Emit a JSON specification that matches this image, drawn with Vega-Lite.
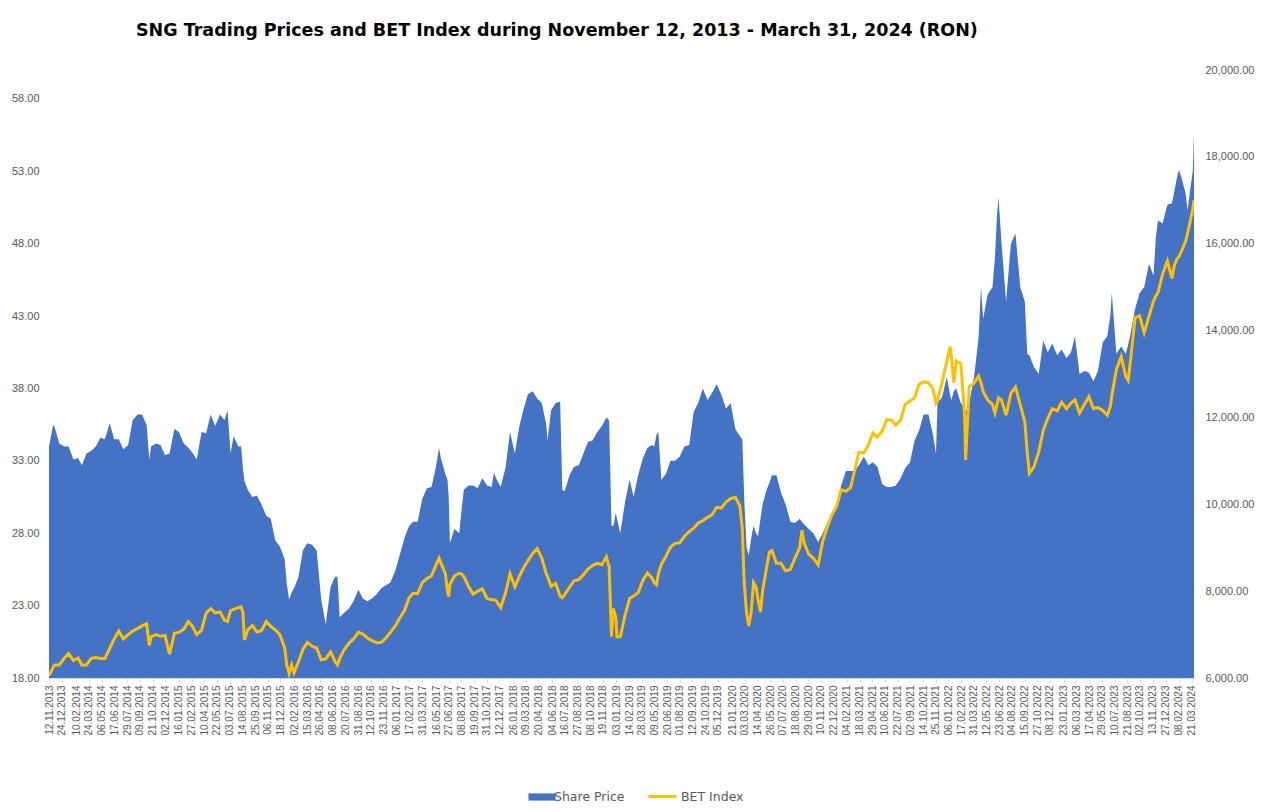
{
  "$schema": "https://vega.github.io/schema/vega-lite/v6.json",
  "width": 1145,
  "height": 608,
  "padding": {"left": 11, "top": 21, "right": 6, "bottom": 4},
  "background": "white",
  "title": {
    "text": "SNG Trading Prices and BET Index during November 12, 2013 - March 31, 2024 (RON)",
    "font": "DejaVu Sans",
    "fontSize": 17.5,
    "fontWeight": "bold",
    "color": "#000000",
    "anchor": "start",
    "frame": "group",
    "dx": 87,
    "offset": 25
  },
  "config": {
    "view": {"stroke": null},
    "axis": {"labelFont": "Liberation Sans", "labelColor": "#595959", "grid": false, "title": null},
    "legend": {"labelFont": "DejaVu Sans", "labelFontSize": 12.5, "labelColor": "#595959", "title": null, "orient": "none", "direction": "horizontal", "labelOffset": 3}
  },
  "data": {
    "values": [
      {"date": "2013-11-12", "price": 34.0, "bet": 6050},
      {"date": "2013-11-26", "price": 35.5, "bet": 6250},
      {"date": "2013-12-01", "price": 35.3, "bet": 6300},
      {"date": "2013-12-16", "price": 34.2, "bet": 6300},
      {"date": "2014-01-01", "price": 34.0, "bet": 6450},
      {"date": "2014-01-16", "price": 34.0, "bet": 6560},
      {"date": "2014-02-01", "price": 33.1, "bet": 6400},
      {"date": "2014-02-16", "price": 33.2, "bet": 6460},
      {"date": "2014-03-01", "price": 32.7, "bet": 6300},
      {"date": "2014-03-16", "price": 33.5, "bet": 6300},
      {"date": "2014-04-01", "price": 33.7, "bet": 6450},
      {"date": "2014-04-16", "price": 34.0, "bet": 6470},
      {"date": "2014-05-01", "price": 34.6, "bet": 6450},
      {"date": "2014-05-16", "price": 34.5, "bet": 6450},
      {"date": "2014-06-01", "price": 35.6, "bet": 6680},
      {"date": "2014-06-16", "price": 34.5, "bet": 6900},
      {"date": "2014-07-01", "price": 34.5, "bet": 7080},
      {"date": "2014-07-16", "price": 33.8, "bet": 6900},
      {"date": "2014-08-01", "price": 34.1, "bet": 7000},
      {"date": "2014-08-16", "price": 35.8, "bet": 7080},
      {"date": "2014-09-01", "price": 36.2, "bet": 7140},
      {"date": "2014-09-16", "price": 36.2, "bet": 7200},
      {"date": "2014-10-01", "price": 35.5, "bet": 7250},
      {"date": "2014-10-10", "price": 33.1, "bet": 6750},
      {"date": "2014-10-16", "price": 34.0, "bet": 6950},
      {"date": "2014-11-01", "price": 34.2, "bet": 7000},
      {"date": "2014-11-16", "price": 34.1, "bet": 6960},
      {"date": "2014-12-01", "price": 33.4, "bet": 6980},
      {"date": "2014-12-16", "price": 33.5, "bet": 6550},
      {"date": "2015-01-01", "price": 35.2, "bet": 7030},
      {"date": "2015-01-16", "price": 35.0, "bet": 7050},
      {"date": "2015-02-01", "price": 34.2, "bet": 7120},
      {"date": "2015-02-16", "price": 33.9, "bet": 7300},
      {"date": "2015-03-01", "price": 33.6, "bet": 7200},
      {"date": "2015-03-16", "price": 33.1, "bet": 7000},
      {"date": "2015-04-01", "price": 35.0, "bet": 7100},
      {"date": "2015-04-16", "price": 34.9, "bet": 7490},
      {"date": "2015-05-01", "price": 36.2, "bet": 7600},
      {"date": "2015-05-16", "price": 35.4, "bet": 7500},
      {"date": "2015-06-01", "price": 36.2, "bet": 7520},
      {"date": "2015-06-16", "price": 35.8, "bet": 7330},
      {"date": "2015-06-26", "price": 36.5, "bet": 7300},
      {"date": "2015-07-06", "price": 33.5, "bet": 7550},
      {"date": "2015-07-16", "price": 34.7, "bet": 7580},
      {"date": "2015-08-01", "price": 34.0, "bet": 7620},
      {"date": "2015-08-10", "price": 34.0, "bet": 7640},
      {"date": "2015-08-16", "price": 32.4, "bet": 7500},
      {"date": "2015-08-21", "price": 31.6, "bet": 6875},
      {"date": "2015-09-01", "price": 31.0, "bet": 7110},
      {"date": "2015-09-16", "price": 30.5, "bet": 7210},
      {"date": "2015-10-01", "price": 30.6, "bet": 7060},
      {"date": "2015-10-16", "price": 30.0, "bet": 7090},
      {"date": "2015-11-01", "price": 29.2, "bet": 7300},
      {"date": "2015-11-16", "price": 29.0, "bet": 7190},
      {"date": "2015-12-01", "price": 27.5, "bet": 7110},
      {"date": "2015-12-16", "price": 27.1, "bet": 7000},
      {"date": "2016-01-01", "price": 26.2, "bet": 6700},
      {"date": "2016-01-08", "price": 24.5, "bet": 6300},
      {"date": "2016-01-16", "price": 23.4, "bet": 6100},
      {"date": "2016-01-24", "price": 23.9, "bet": 6300},
      {"date": "2016-02-01", "price": 24.2, "bet": 6120},
      {"date": "2016-02-16", "price": 25.0, "bet": 6380},
      {"date": "2016-03-01", "price": 26.8, "bet": 6650},
      {"date": "2016-03-16", "price": 27.3, "bet": 6820},
      {"date": "2016-04-01", "price": 27.2, "bet": 6730},
      {"date": "2016-04-16", "price": 26.8, "bet": 6690},
      {"date": "2016-05-01", "price": 23.4, "bet": 6420},
      {"date": "2016-05-16", "price": 21.7, "bet": 6440},
      {"date": "2016-06-01", "price": 24.3, "bet": 6600},
      {"date": "2016-06-16", "price": 25.0, "bet": 6380},
      {"date": "2016-06-24", "price": 25.0, "bet": 6300},
      {"date": "2016-07-01", "price": 22.2, "bet": 6450},
      {"date": "2016-07-16", "price": 22.5, "bet": 6650},
      {"date": "2016-08-01", "price": 22.8, "bet": 6800},
      {"date": "2016-08-16", "price": 23.3, "bet": 6900},
      {"date": "2016-09-01", "price": 24.1, "bet": 7050},
      {"date": "2016-09-16", "price": 23.5, "bet": 7010},
      {"date": "2016-10-01", "price": 23.3, "bet": 6920},
      {"date": "2016-10-16", "price": 23.5, "bet": 6860},
      {"date": "2016-11-01", "price": 23.8, "bet": 6810},
      {"date": "2016-11-16", "price": 24.2, "bet": 6820},
      {"date": "2016-12-01", "price": 24.4, "bet": 6920},
      {"date": "2016-12-16", "price": 24.6, "bet": 7050},
      {"date": "2017-01-01", "price": 25.4, "bet": 7200},
      {"date": "2017-01-16", "price": 26.5, "bet": 7380},
      {"date": "2017-02-01", "price": 27.7, "bet": 7560},
      {"date": "2017-02-16", "price": 28.5, "bet": 7850},
      {"date": "2017-03-01", "price": 28.8, "bet": 7950},
      {"date": "2017-03-16", "price": 28.8, "bet": 7940},
      {"date": "2017-04-01", "price": 30.4, "bet": 8200},
      {"date": "2017-04-16", "price": 31.1, "bet": 8290},
      {"date": "2017-05-01", "price": 31.2, "bet": 8350},
      {"date": "2017-05-16", "price": 32.6, "bet": 8600},
      {"date": "2017-05-26", "price": 33.9, "bet": 8757},
      {"date": "2017-06-01", "price": 33.2, "bet": 8650},
      {"date": "2017-06-16", "price": 32.1, "bet": 8400},
      {"date": "2017-06-23", "price": 31.7, "bet": 8000},
      {"date": "2017-06-27", "price": 30.5, "bet": 7874},
      {"date": "2017-07-01", "price": 27.3, "bet": 8150},
      {"date": "2017-07-16", "price": 28.3, "bet": 8350},
      {"date": "2017-08-01", "price": 28.0, "bet": 8411},
      {"date": "2017-08-08", "price": 29.5, "bet": 8400},
      {"date": "2017-08-16", "price": 31.0, "bet": 8340},
      {"date": "2017-09-01", "price": 31.3, "bet": 8100},
      {"date": "2017-09-16", "price": 31.3, "bet": 7930},
      {"date": "2017-10-01", "price": 31.1, "bet": 8000},
      {"date": "2017-10-16", "price": 31.8, "bet": 8050},
      {"date": "2017-11-01", "price": 31.3, "bet": 7830},
      {"date": "2017-11-16", "price": 31.2, "bet": 7800},
      {"date": "2017-11-24", "price": 32.2, "bet": 7800},
      {"date": "2017-12-01", "price": 31.8, "bet": 7780},
      {"date": "2017-12-16", "price": 31.2, "bet": 7620},
      {"date": "2018-01-01", "price": 32.5, "bet": 7950},
      {"date": "2018-01-16", "price": 35.0, "bet": 8400},
      {"date": "2018-02-01", "price": 33.5, "bet": 8100},
      {"date": "2018-02-16", "price": 35.4, "bet": 8340},
      {"date": "2018-03-01", "price": 36.5, "bet": 8530},
      {"date": "2018-03-16", "price": 37.6, "bet": 8700},
      {"date": "2018-04-01", "price": 37.8, "bet": 8870},
      {"date": "2018-04-16", "price": 37.3, "bet": 8980},
      {"date": "2018-05-01", "price": 37.0, "bet": 8760},
      {"date": "2018-05-16", "price": 35.5, "bet": 8400},
      {"date": "2018-05-20", "price": 34.4, "bet": 8334},
      {"date": "2018-06-01", "price": 36.5, "bet": 8110},
      {"date": "2018-06-16", "price": 37.0, "bet": 8180},
      {"date": "2018-07-01", "price": 37.1, "bet": 7880},
      {"date": "2018-07-08", "price": 31.0, "bet": 7850},
      {"date": "2018-07-16", "price": 30.9, "bet": 7920},
      {"date": "2018-08-01", "price": 32.0, "bet": 8090},
      {"date": "2018-08-16", "price": 32.6, "bet": 8240},
      {"date": "2018-09-01", "price": 32.7, "bet": 8270},
      {"date": "2018-09-16", "price": 33.5, "bet": 8380},
      {"date": "2018-10-01", "price": 34.3, "bet": 8510},
      {"date": "2018-10-16", "price": 34.4, "bet": 8590},
      {"date": "2018-11-01", "price": 35.0, "bet": 8640},
      {"date": "2018-11-16", "price": 35.4, "bet": 8610},
      {"date": "2018-12-01", "price": 36.0, "bet": 8790},
      {"date": "2018-12-10", "price": 35.8, "bet": 8564},
      {"date": "2018-12-18", "price": 28.5, "bet": 6951},
      {"date": "2018-12-24", "price": 28.5, "bet": 7600},
      {"date": "2019-01-01", "price": 29.4, "bet": 7400},
      {"date": "2019-01-05", "price": 29.0, "bet": 6951},
      {"date": "2019-01-16", "price": 28.0, "bet": 6951},
      {"date": "2019-02-01", "price": 30.2, "bet": 7450},
      {"date": "2019-02-16", "price": 31.7, "bet": 7830},
      {"date": "2019-03-01", "price": 30.5, "bet": 7890},
      {"date": "2019-03-16", "price": 32.0, "bet": 7960},
      {"date": "2019-04-01", "price": 33.2, "bet": 8250},
      {"date": "2019-04-16", "price": 33.9, "bet": 8420},
      {"date": "2019-05-01", "price": 34.1, "bet": 8300},
      {"date": "2019-05-08", "price": 34.0, "bet": 8200},
      {"date": "2019-05-16", "price": 34.8, "bet": 8150},
      {"date": "2019-05-22", "price": 35.0, "bet": 8400},
      {"date": "2019-06-01", "price": 31.7, "bet": 8620},
      {"date": "2019-06-16", "price": 32.1, "bet": 8800},
      {"date": "2019-07-01", "price": 33.0, "bet": 9010},
      {"date": "2019-07-16", "price": 33.0, "bet": 9100},
      {"date": "2019-08-01", "price": 33.3, "bet": 9110},
      {"date": "2019-08-16", "price": 34.0, "bet": 9260},
      {"date": "2019-09-01", "price": 34.1, "bet": 9370},
      {"date": "2019-09-16", "price": 36.4, "bet": 9450},
      {"date": "2019-10-01", "price": 37.0, "bet": 9570},
      {"date": "2019-10-16", "price": 38.0, "bet": 9620},
      {"date": "2019-11-01", "price": 37.2, "bet": 9700},
      {"date": "2019-11-16", "price": 37.7, "bet": 9760},
      {"date": "2019-12-01", "price": 38.3, "bet": 9930},
      {"date": "2019-12-16", "price": 37.6, "bet": 9910},
      {"date": "2020-01-01", "price": 36.6, "bet": 10050},
      {"date": "2020-01-16", "price": 37.0, "bet": 10130},
      {"date": "2020-02-01", "price": 35.2, "bet": 10160},
      {"date": "2020-02-16", "price": 34.7, "bet": 9960},
      {"date": "2020-02-24", "price": 34.5, "bet": 9420},
      {"date": "2020-03-01", "price": 30.5, "bet": 8200},
      {"date": "2020-03-09", "price": 27.0, "bet": 7500},
      {"date": "2020-03-16", "price": 26.5, "bet": 7200},
      {"date": "2020-03-24", "price": 27.6, "bet": 7500},
      {"date": "2020-04-01", "price": 28.5, "bet": 8200},
      {"date": "2020-04-09", "price": 28.0, "bet": 8100},
      {"date": "2020-04-16", "price": 27.8, "bet": 7800},
      {"date": "2020-04-24", "price": 29.0, "bet": 7520},
      {"date": "2020-05-01", "price": 30.0, "bet": 8000},
      {"date": "2020-05-16", "price": 31.1, "bet": 8620},
      {"date": "2020-05-24", "price": 31.5, "bet": 8900},
      {"date": "2020-06-01", "price": 32.0, "bet": 8930},
      {"date": "2020-06-16", "price": 32.0, "bet": 8642},
      {"date": "2020-07-01", "price": 30.8, "bet": 8640},
      {"date": "2020-07-16", "price": 30.0, "bet": 8470},
      {"date": "2020-08-01", "price": 28.8, "bet": 8500},
      {"date": "2020-08-16", "price": 28.7, "bet": 8760},
      {"date": "2020-09-01", "price": 29.0, "bet": 9000},
      {"date": "2020-09-08", "price": 28.8, "bet": 9400},
      {"date": "2020-09-16", "price": 28.6, "bet": 9100},
      {"date": "2020-10-01", "price": 28.3, "bet": 8850},
      {"date": "2020-10-16", "price": 28.0, "bet": 8760},
      {"date": "2020-11-01", "price": 27.4, "bet": 8600},
      {"date": "2020-11-16", "price": 28.0, "bet": 9150},
      {"date": "2020-12-01", "price": 28.7, "bet": 9470},
      {"date": "2020-12-16", "price": 29.2, "bet": 9750},
      {"date": "2021-01-01", "price": 30.0, "bet": 9950},
      {"date": "2021-01-16", "price": 31.3, "bet": 10330},
      {"date": "2021-02-01", "price": 32.3, "bet": 10300},
      {"date": "2021-02-16", "price": 32.3, "bet": 10380},
      {"date": "2021-03-01", "price": 32.3, "bet": 10750},
      {"date": "2021-03-16", "price": 32.7, "bet": 11200},
      {"date": "2021-04-01", "price": 33.3, "bet": 11180},
      {"date": "2021-04-16", "price": 32.7, "bet": 11360},
      {"date": "2021-05-01", "price": 32.9, "bet": 11640},
      {"date": "2021-05-16", "price": 32.6, "bet": 11550},
      {"date": "2021-06-01", "price": 31.4, "bet": 11690},
      {"date": "2021-06-16", "price": 31.2, "bet": 11950},
      {"date": "2021-07-01", "price": 31.2, "bet": 11940},
      {"date": "2021-07-16", "price": 31.3, "bet": 11820},
      {"date": "2021-08-01", "price": 31.8, "bet": 11942},
      {"date": "2021-08-16", "price": 32.5, "bet": 12300},
      {"date": "2021-09-01", "price": 32.9, "bet": 12380},
      {"date": "2021-09-16", "price": 34.4, "bet": 12450},
      {"date": "2021-10-01", "price": 35.1, "bet": 12760},
      {"date": "2021-10-16", "price": 36.2, "bet": 12820},
      {"date": "2021-11-01", "price": 36.2, "bet": 12800},
      {"date": "2021-11-16", "price": 34.8, "bet": 12650},
      {"date": "2021-11-26", "price": 33.5, "bet": 12326},
      {"date": "2021-12-01", "price": 37.0, "bet": 12380},
      {"date": "2021-12-16", "price": 37.4, "bet": 12800},
      {"date": "2022-01-01", "price": 38.8, "bet": 13300},
      {"date": "2022-01-12", "price": 37.5, "bet": 13630},
      {"date": "2022-01-16", "price": 37.2, "bet": 13400},
      {"date": "2022-01-24", "price": 37.8, "bet": 12800},
      {"date": "2022-02-01", "price": 38.0, "bet": 13300},
      {"date": "2022-02-16", "price": 37.0, "bet": 13240},
      {"date": "2022-02-24", "price": 36.8, "bet": 12500},
      {"date": "2022-03-01", "price": 36.5, "bet": 12000},
      {"date": "2022-03-04", "price": 36.4, "bet": 11021},
      {"date": "2022-03-16", "price": 37.0, "bet": 12710},
      {"date": "2022-04-01", "price": 38.8, "bet": 12790},
      {"date": "2022-04-16", "price": 41.5, "bet": 12950},
      {"date": "2022-04-24", "price": 45.0, "bet": 12800},
      {"date": "2022-05-01", "price": 42.8, "bet": 12600},
      {"date": "2022-05-16", "price": 44.5, "bet": 12400},
      {"date": "2022-06-01", "price": 45.0, "bet": 12300},
      {"date": "2022-06-09", "price": 47.0, "bet": 12100},
      {"date": "2022-06-16", "price": 50.0, "bet": 12300},
      {"date": "2022-06-21", "price": 51.2, "bet": 12450},
      {"date": "2022-07-01", "price": 48.0, "bet": 12400},
      {"date": "2022-07-16", "price": 44.0, "bet": 12050},
      {"date": "2022-08-01", "price": 48.0, "bet": 12560},
      {"date": "2022-08-16", "price": 48.7, "bet": 12700},
      {"date": "2022-09-01", "price": 45.0, "bet": 12290},
      {"date": "2022-09-16", "price": 44.0, "bet": 11900},
      {"date": "2022-09-24", "price": 40.4, "bet": 11200},
      {"date": "2022-10-01", "price": 40.3, "bet": 10714},
      {"date": "2022-10-16", "price": 39.5, "bet": 10860},
      {"date": "2022-11-01", "price": 39.0, "bet": 11200},
      {"date": "2022-11-16", "price": 41.3, "bet": 11700},
      {"date": "2022-12-01", "price": 40.5, "bet": 11980},
      {"date": "2022-12-16", "price": 41.1, "bet": 12200},
      {"date": "2023-01-01", "price": 40.3, "bet": 12150},
      {"date": "2023-01-16", "price": 40.7, "bet": 12350},
      {"date": "2023-02-01", "price": 40.1, "bet": 12200},
      {"date": "2023-02-16", "price": 40.5, "bet": 12330},
      {"date": "2023-03-01", "price": 41.6, "bet": 12400},
      {"date": "2023-03-16", "price": 39.0, "bet": 12100},
      {"date": "2023-04-01", "price": 39.2, "bet": 12300},
      {"date": "2023-04-16", "price": 39.1, "bet": 12480},
      {"date": "2023-05-01", "price": 38.5, "bet": 12200},
      {"date": "2023-05-16", "price": 39.2, "bet": 12230},
      {"date": "2023-06-01", "price": 41.2, "bet": 12160},
      {"date": "2023-06-16", "price": 41.6, "bet": 12050},
      {"date": "2023-06-26", "price": 43.0, "bet": 12250},
      {"date": "2023-07-01", "price": 44.6, "bet": 12500},
      {"date": "2023-07-16", "price": 40.4, "bet": 13100},
      {"date": "2023-08-01", "price": 40.9, "bet": 13400},
      {"date": "2023-08-16", "price": 40.4, "bet": 12950},
      {"date": "2023-08-24", "price": 41.0, "bet": 12850},
      {"date": "2023-09-01", "price": 41.8, "bet": 13323},
      {"date": "2023-09-16", "price": 43.5, "bet": 14300},
      {"date": "2023-10-01", "price": 44.6, "bet": 14340},
      {"date": "2023-10-16", "price": 45.0, "bet": 13950},
      {"date": "2023-11-01", "price": 46.6, "bet": 14330},
      {"date": "2023-11-16", "price": 45.8, "bet": 14680},
      {"date": "2023-11-24", "price": 48.5, "bet": 14800},
      {"date": "2023-12-01", "price": 49.6, "bet": 14880},
      {"date": "2023-12-16", "price": 49.4, "bet": 15300},
      {"date": "2024-01-01", "price": 50.7, "bet": 15600},
      {"date": "2024-01-16", "price": 50.8, "bet": 15200},
      {"date": "2024-01-24", "price": 51.6, "bet": 15500},
      {"date": "2024-02-01", "price": 52.5, "bet": 15640},
      {"date": "2024-02-08", "price": 53.1, "bet": 15700},
      {"date": "2024-02-16", "price": 52.6, "bet": 15820},
      {"date": "2024-03-01", "price": 51.5, "bet": 16050},
      {"date": "2024-03-08", "price": 50.3, "bet": 16250},
      {"date": "2024-03-16", "price": 51.7, "bet": 16500},
      {"date": "2024-03-25", "price": 53.0, "bet": 16800},
      {"date": "2024-03-29", "price": 55.6, "bet": 17000}
    ]
  },
  "encoding": {
    "x": {
      "field": "date",
      "type": "temporal",
      "scale": {"type": "utc", "nice": false},
      "axis": {
        "format": "%d.%m.%Y",
        "labelAngle": 270,
        "labelFontSize": 10,
        "labelOverlap": false,
        "labelBound": false,
        "labelFlush": false,
        "labelPadding": 3,
        "tickSize": 4,
        "tickColor": "#d9d9d9",
        "domainColor": "#d9d9d9",
        "values": [
          {"year": 2013, "month": 11, "date": 12, "utc": true},
          {"year": 2013, "month": 12, "date": 24, "utc": true},
          {"year": 2014, "month": 2, "date": 10, "utc": true},
          {"year": 2014, "month": 3, "date": 24, "utc": true},
          {"year": 2014, "month": 5, "date": 6, "utc": true},
          {"year": 2014, "month": 6, "date": 17, "utc": true},
          {"year": 2014, "month": 7, "date": 29, "utc": true},
          {"year": 2014, "month": 9, "date": 9, "utc": true},
          {"year": 2014, "month": 10, "date": 21, "utc": true},
          {"year": 2014, "month": 12, "date": 2, "utc": true},
          {"year": 2015, "month": 1, "date": 16, "utc": true},
          {"year": 2015, "month": 2, "date": 27, "utc": true},
          {"year": 2015, "month": 4, "date": 10, "utc": true},
          {"year": 2015, "month": 5, "date": 22, "utc": true},
          {"year": 2015, "month": 7, "date": 3, "utc": true},
          {"year": 2015, "month": 8, "date": 14, "utc": true},
          {"year": 2015, "month": 9, "date": 25, "utc": true},
          {"year": 2015, "month": 11, "date": 6, "utc": true},
          {"year": 2015, "month": 12, "date": 18, "utc": true},
          {"year": 2016, "month": 2, "date": 2, "utc": true},
          {"year": 2016, "month": 3, "date": 15, "utc": true},
          {"year": 2016, "month": 4, "date": 26, "utc": true},
          {"year": 2016, "month": 6, "date": 8, "utc": true},
          {"year": 2016, "month": 7, "date": 20, "utc": true},
          {"year": 2016, "month": 8, "date": 31, "utc": true},
          {"year": 2016, "month": 10, "date": 12, "utc": true},
          {"year": 2016, "month": 11, "date": 23, "utc": true},
          {"year": 2017, "month": 1, "date": 6, "utc": true},
          {"year": 2017, "month": 2, "date": 17, "utc": true},
          {"year": 2017, "month": 3, "date": 31, "utc": true},
          {"year": 2017, "month": 5, "date": 16, "utc": true},
          {"year": 2017, "month": 6, "date": 27, "utc": true},
          {"year": 2017, "month": 8, "date": 8, "utc": true},
          {"year": 2017, "month": 9, "date": 19, "utc": true},
          {"year": 2017, "month": 10, "date": 31, "utc": true},
          {"year": 2017, "month": 12, "date": 12, "utc": true},
          {"year": 2018, "month": 1, "date": 26, "utc": true},
          {"year": 2018, "month": 3, "date": 9, "utc": true},
          {"year": 2018, "month": 4, "date": 20, "utc": true},
          {"year": 2018, "month": 6, "date": 4, "utc": true},
          {"year": 2018, "month": 7, "date": 16, "utc": true},
          {"year": 2018, "month": 8, "date": 27, "utc": true},
          {"year": 2018, "month": 10, "date": 8, "utc": true},
          {"year": 2018, "month": 11, "date": 19, "utc": true},
          {"year": 2019, "month": 1, "date": 3, "utc": true},
          {"year": 2019, "month": 2, "date": 14, "utc": true},
          {"year": 2019, "month": 3, "date": 28, "utc": true},
          {"year": 2019, "month": 5, "date": 9, "utc": true},
          {"year": 2019, "month": 6, "date": 20, "utc": true},
          {"year": 2019, "month": 8, "date": 1, "utc": true},
          {"year": 2019, "month": 9, "date": 12, "utc": true},
          {"year": 2019, "month": 10, "date": 24, "utc": true},
          {"year": 2019, "month": 12, "date": 5, "utc": true},
          {"year": 2020, "month": 1, "date": 21, "utc": true},
          {"year": 2020, "month": 3, "date": 3, "utc": true},
          {"year": 2020, "month": 4, "date": 14, "utc": true},
          {"year": 2020, "month": 5, "date": 26, "utc": true},
          {"year": 2020, "month": 7, "date": 7, "utc": true},
          {"year": 2020, "month": 8, "date": 18, "utc": true},
          {"year": 2020, "month": 9, "date": 29, "utc": true},
          {"year": 2020, "month": 11, "date": 10, "utc": true},
          {"year": 2020, "month": 12, "date": 22, "utc": true},
          {"year": 2021, "month": 2, "date": 4, "utc": true},
          {"year": 2021, "month": 3, "date": 18, "utc": true},
          {"year": 2021, "month": 4, "date": 29, "utc": true},
          {"year": 2021, "month": 6, "date": 10, "utc": true},
          {"year": 2021, "month": 7, "date": 22, "utc": true},
          {"year": 2021, "month": 9, "date": 2, "utc": true},
          {"year": 2021, "month": 10, "date": 14, "utc": true},
          {"year": 2021, "month": 11, "date": 25, "utc": true},
          {"year": 2022, "month": 1, "date": 6, "utc": true},
          {"year": 2022, "month": 2, "date": 17, "utc": true},
          {"year": 2022, "month": 3, "date": 31, "utc": true},
          {"year": 2022, "month": 5, "date": 12, "utc": true},
          {"year": 2022, "month": 6, "date": 23, "utc": true},
          {"year": 2022, "month": 8, "date": 4, "utc": true},
          {"year": 2022, "month": 9, "date": 15, "utc": true},
          {"year": 2022, "month": 10, "date": 27, "utc": true},
          {"year": 2022, "month": 12, "date": 8, "utc": true},
          {"year": 2023, "month": 1, "date": 23, "utc": true},
          {"year": 2023, "month": 3, "date": 6, "utc": true},
          {"year": 2023, "month": 4, "date": 17, "utc": true},
          {"year": 2023, "month": 5, "date": 29, "utc": true},
          {"year": 2023, "month": 7, "date": 10, "utc": true},
          {"year": 2023, "month": 8, "date": 21, "utc": true},
          {"year": 2023, "month": 10, "date": 2, "utc": true},
          {"year": 2023, "month": 11, "date": 13, "utc": true},
          {"year": 2023, "month": 12, "date": 27, "utc": true},
          {"year": 2024, "month": 2, "date": 8, "utc": true},
          {"year": 2024, "month": 3, "date": 21, "utc": true}
        ]
      }
    }
  },
  "layer": [
    {
      "mark": {"type": "area", "color": "#4472C4", "opacity": 1, "clip": true},
      "encoding": {
        "y": {
          "field": "price",
          "type": "quantitative",
          "scale": {"domain": [18, 60], "nice": false, "zero": false},
          "axis": {
            "orient": "left",
            "values": [18, 23, 28, 33, 38, 43, 48, 53, 58],
            "format": ".2f",
            "labelFontSize": 11,
            "labelPadding": 10,
            "ticks": false,
            "domain": false
          }
        },
        "fill": {
          "datum": "Share Price",
          "type": "nominal",
          "scale": {"range": ["#4472C4"]},
          "legend": {"legendX": 484, "legendY": 718, "symbolType": "M-1.5,-0.4H1.5V0.4H-1.5Z", "symbolSize": 324, "symbolStrokeWidth": 0, "symbolOpacity": 1}
        }
      }
    },
    {
      "mark": {"type": "line", "color": "#FFC000", "strokeWidth": 3, "clip": true},
      "encoding": {
        "y": {
          "field": "bet",
          "type": "quantitative",
          "scale": {"domain": [6000, 20000], "nice": false, "zero": false},
          "axis": {
            "orient": "right",
            "values": [6000, 8000, 10000, 12000, 14000, 16000, 18000, 20000],
            "format": ",.2f",
            "labelFontSize": 11,
            "labelPadding": 11,
            "ticks": false,
            "domain": false
          }
        },
        "stroke": {
          "datum": "BET Index",
          "type": "nominal",
          "scale": {"range": ["#FFC000"]},
          "legend": {"legendX": 598, "legendY": 711, "symbolType": "stroke", "symbolSize": 784, "symbolStrokeWidth": 3}
        }
      }
    }
  ],
  "resolve": {"scale": {"y": "independent"}}
}
